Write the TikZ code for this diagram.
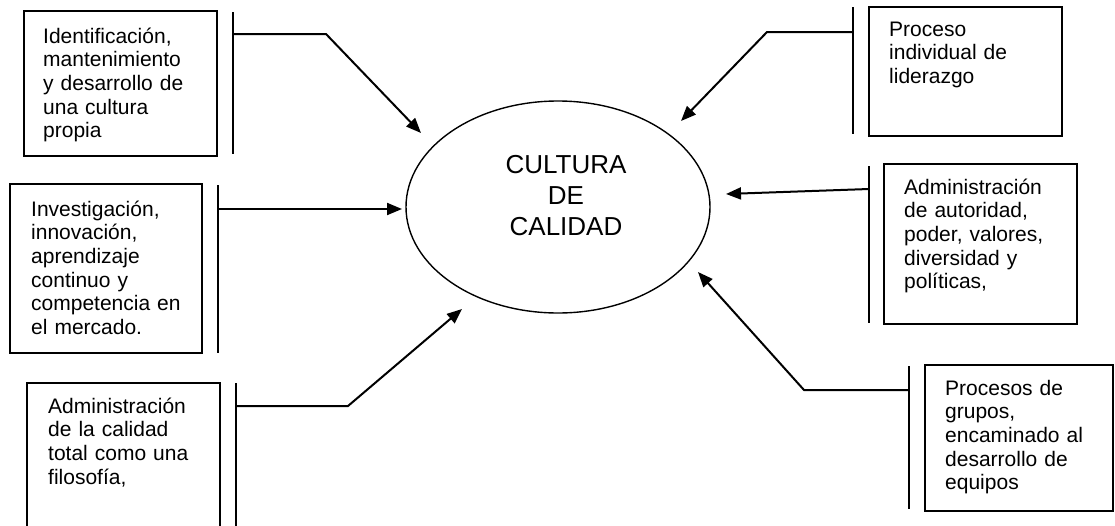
\documentclass[tikz,border=0pt]{standalone}
\usepackage{fontspec}
\setmainfont{Liberation Sans}
\usetikzlibrary{arrows.meta,shapes.geometric}
\begin{document}
\begin{tikzpicture}[x=1pt,y=-1pt,
  boxst/.style={draw, line width=2pt, inner sep=0pt},
  barst/.style={line width=2.3pt},
  conn/.style={line width=2pt, -{Triangle[length=15pt,width=12pt]}},
  txt/.style={anchor=base west, inner sep=0pt, text width=220pt, align=left,
              font=\fontsize{21}{23.7}\selectfont}]
\useasboundingbox (0,0) rectangle (1115,525);
\clip (0,0) rectangle (1115,525);

% central ellipse
\node (ell) [draw, ellipse, line width=1.4pt, minimum width=304pt, minimum height=212pt, inner sep=0pt] at (558,207) {};
\node (ct) [anchor=base, inner sep=0pt, text width=200pt, align=center,
            font=\fontsize{26}{31}\selectfont] at (566,173) {CULTURA\\DE\\CALIDAD};

% boxes
\node (b1) [boxst, minimum width=193pt, minimum height=145pt] at (120.5,83.5) {};
\node (b2) [boxst, minimum width=192pt, minimum height=169pt] at (106,268.5) {};
\node (b3) [boxst, minimum width=193pt, minimum height=177pt] at (123.5,471.5) {};
\node (b4) [boxst, minimum width=193pt, minimum height=129pt] at (965.5,71.5) {};
\node (b5) [boxst, minimum width=193pt, minimum height=160pt] at (980.5,244) {};
\node (b6) [boxst, minimum width=188pt, minimum height=146pt] at (1019,438) {};

% texts
\node (t1) [txt] at (43,43) {Identificación,\\mantenimiento\\y desarrollo de\\una cultura\\propia};
\node (t2) [txt] at (31,216) {Investigación,\\innovación,\\aprendizaje\\continuo y\\competencia en\\el mercado.};
\node (t3) [txt] at (48,413) {Administración\\de la calidad\\total como una\\filosofía,};
\node (t4) [txt] at (889,36) {Proceso\\individual de\\liderazgo};
\node (t5) [txt] at (904,194) {Administración\\de autoridad,\\poder, valores,\\diversidad y\\políticas,};
\node (t6) [txt] at (945,395) {Procesos de\\grupos,\\encaminado al\\desarrollo de\\equipos};

% bars
\draw[barst] (233,12) -- (233,154);
\draw[barst] (218,185) -- (218,353);
\draw[barst] (236,383) -- (236,530);
\draw[barst] (853,7) -- (853,134);
\draw[barst] (869,166) -- (869,323);
\draw[barst] (909,366) -- (909,509);

% connector coordinates
\coordinate (s1) at (233,34);  \coordinate (k1) at (326,34);  \coordinate (e1) at (421,133);
\coordinate (s2) at (218,209); \coordinate (e2) at (402,209);
\coordinate (s3) at (236,406); \coordinate (k3) at (348,406); \coordinate (e3) at (462,309);
\coordinate (s4) at (853,32);  \coordinate (k4) at (767,32);  \coordinate (e4) at (681,121);
\coordinate (s5) at (869,189); \coordinate (e5) at (726,194);
\coordinate (s6) at (909,390); \coordinate (k6) at (804,390); \coordinate (e6) at (698,272);

\draw[conn] (s1) -- (k1) -- (e1);
\draw[conn] (s2) -- (e2);
\draw[conn] (s3) -- (k3) -- (e3);
\draw[conn] (s4) -- (k4) -- (e4);
\draw[conn] (s5) -- (e5);
\draw[conn] (s6) -- (k6) -- (e6);
\end{tikzpicture}
\end{document}
